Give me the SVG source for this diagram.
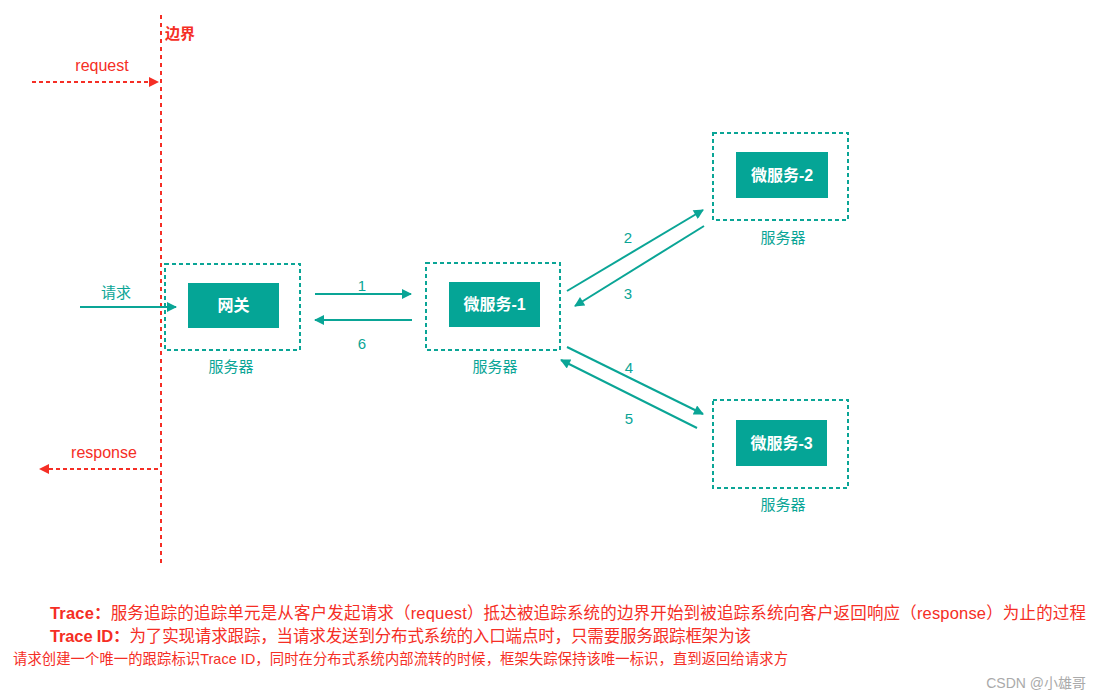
<svg xmlns="http://www.w3.org/2000/svg" width="1102" height="698" viewBox="0 0 1102 698">
<style>
text{font-family:"Liberation Sans","Noto Sans CJK SC",sans-serif}
.box{fill:none;stroke:#0aa596;stroke-width:2;stroke-dasharray:4 3}
.inner{fill:#05a596}
.nt{fill:#fff;font-size:16px;font-weight:bold;text-anchor:middle}
.lbl{fill:#0aa596;font-size:15px;text-anchor:middle}
.red{fill:#f52e25}
.conn{stroke:#0aa596;stroke-width:2;fill:none;marker-end:url(#ta)}
.rconn{stroke:#f52e25;stroke-width:2;fill:none;stroke-dasharray:4 3;marker-end:url(#ra)}
</style>
<defs>
<marker id="ta" viewBox="0 0 10 10" refX="9" refY="5" markerWidth="6" markerHeight="5" orient="auto" markerUnits="strokeWidth"><path d="M0,0L10,5L0,10z" fill="#0aa596"/></marker>
<marker id="ra" viewBox="0 0 10 10" refX="9" refY="5" markerWidth="6" markerHeight="5" orient="auto" markerUnits="strokeWidth"><path d="M0,0L10,5L0,10z" fill="#f52e25"/></marker>
</defs>
<rect width="1102" height="698" fill="#fff"/>
<g id="boundary">
<line x1="161" y1="15" x2="161" y2="566" stroke="#f52e25" stroke-width="2" stroke-dasharray="4 4"/>
<text x="165" y="39" class="red" font-size="15" font-weight="bold">边界</text>
</g>
<g id="gateway">
<rect class="box" x="165" y="264" width="135" height="86"/>
<rect class="inner" x="188" y="283" width="91" height="45"/>
<text class="nt" x="233.5" y="311">网关</text>
<text class="lbl" x="231" y="372">服务器</text>
</g>
<g id="ms1">
<rect class="box" x="426" y="263" width="134" height="87"/>
<rect class="inner" x="449" y="282" width="91" height="45"/>
<text class="nt" x="494.5" y="310">微服务-1</text>
<text class="lbl" x="495" y="372">服务器</text>
</g>
<g id="ms2">
<rect class="box" x="713" y="133" width="135" height="87"/>
<rect class="inner" x="736" y="152" width="92" height="46"/>
<text class="nt" x="782" y="181">微服务-2</text>
<text class="lbl" x="783" y="243">服务器</text>
</g>
<g id="ms3">
<rect class="box" x="713" y="400" width="135" height="88"/>
<rect class="inner" x="736" y="420" width="91" height="46"/>
<text class="nt" x="781.5" y="449">微服务-3</text>
<text class="lbl" x="783" y="510">服务器</text>
</g>
<g id="connectors">
<line class="rconn" x1="32" y1="82" x2="158" y2="82"/>
<line class="rconn" x1="158" y1="469" x2="40" y2="469"/>
<line class="conn" x1="80" y1="307" x2="176" y2="307"/>
<line class="conn" x1="315" y1="294" x2="411" y2="294"/>
<line class="conn" x1="412" y1="320" x2="315" y2="320"/>
<line class="conn" x1="567" y1="291" x2="703" y2="210"/>
<line class="conn" x1="704" y1="226" x2="575" y2="306"/>
<line class="conn" x1="567" y1="347" x2="703" y2="414"/>
<line class="conn" x1="697" y1="428" x2="561" y2="360"/>
<text class="red" x="102" y="71" font-size="16" text-anchor="middle">request</text>
<text class="red" x="104" y="458" font-size="16" text-anchor="middle">response</text>
<text class="lbl" x="116" y="298" font-size="16">请求</text>
<text class="lbl" x="362" y="291">1</text>
<text class="lbl" x="362" y="349">6</text>
<text class="lbl" x="628" y="243">2</text>
<text class="lbl" x="628" y="299">3</text>
<text class="lbl" x="629" y="373">4</text>
<text class="lbl" x="629" y="424">5</text>
</g>
<g id="notes" class="red">
<text x="50" y="619" font-size="16.5" textLength="1036" lengthAdjust="spacing"><tspan font-weight="bold">Trace：</tspan>服务追踪的追踪单元是从客户发起请求（request）抵达被追踪系统的边界开始到被追踪系统向客户返回响应（response）为止的过程</text>
<text x="50" y="642" font-size="16.5" textLength="701" lengthAdjust="spacing"><tspan font-weight="bold">Trace ID：</tspan>为了实现请求跟踪，当请求发送到分布式系统的入口端点时，只需要服务跟踪框架为该</text>
<text x="13" y="664" font-size="14.3" textLength="775" lengthAdjust="spacing">请求创建一个唯一的跟踪标识Trace ID，同时在分布式系统内部流转的时候，框架失踪保持该唯一标识，直到返回给请求方</text>
</g>
<text x="1086" y="688" font-size="14" fill="#aaa" text-anchor="end">CSDN @小雄哥</text>
</svg>
